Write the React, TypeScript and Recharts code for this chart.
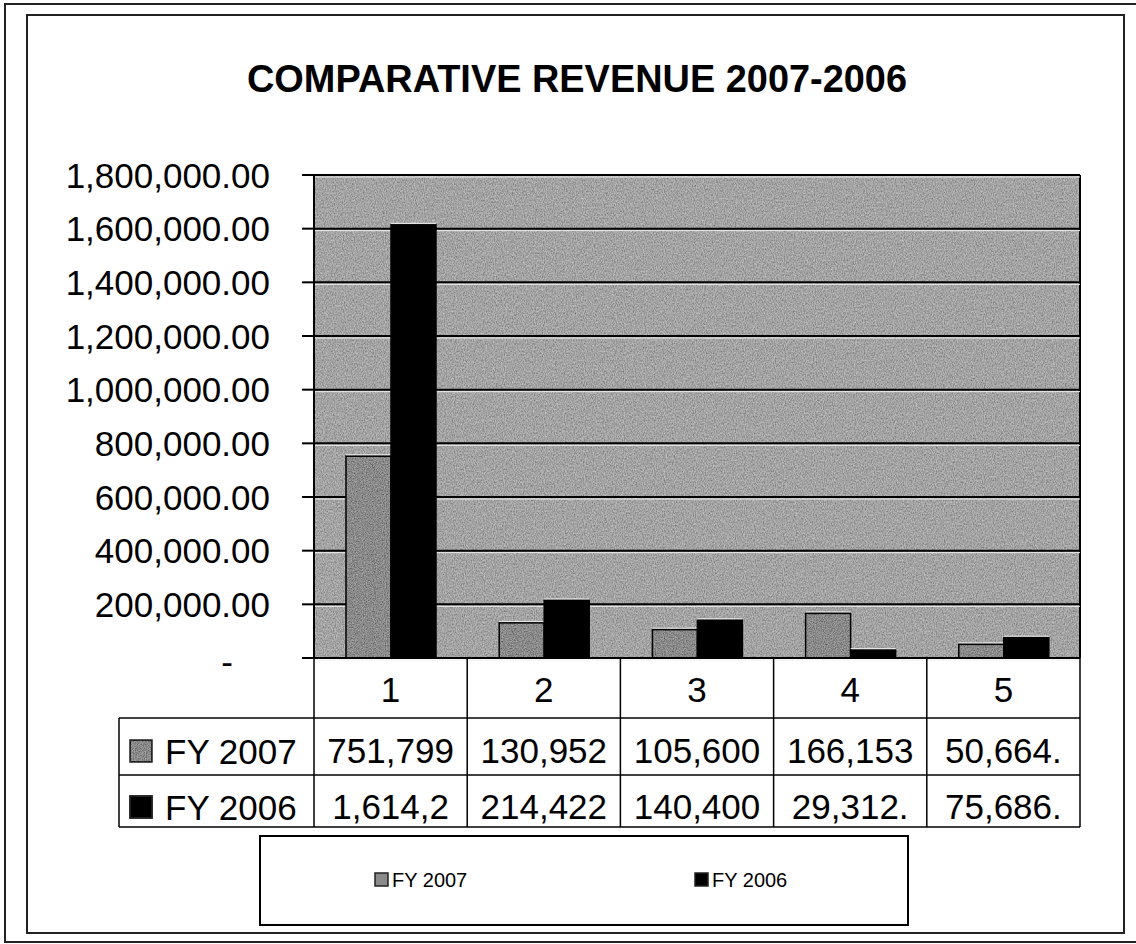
import React from 'react';
import { BarChart, Bar, XAxis, YAxis, CartesianGrid } from 'recharts';

const categories = ['1', '2', '3', '4', '5'];
const fy2007 = [751799, 130952, 105600, 166153, 50664];
const fy2006 = [1614250, 214422, 140400, 29312, 75686];
const fy2007Shown = ['751,799', '130,952', '105,600', '166,153', '50,664.'];
const fy2006Shown = ['1,614,2', '214,422', '140,400', '29,312.', '75,686.'];
const yTicks = [0, 200000, 400000, 600000, 800000, 1000000, 1200000, 1400000, 1600000, 1800000];
const seriesNames = ['FY 2007', 'FY 2006'];
const title = 'COMPARATIVE REVENUE 2007-2006';

const data = categories.map((c, i) => ({ cat: c, fy2007: fy2007[i], fy2006: fy2006[i] }));

const W = 1136;
const H = 944;
const FONT = '"Liberation Sans", Arial, sans-serif';
const GRAY_BAR = '#8a8a8a';
const PLOT_BG = '#a3a3a3';

const fmt = (v: number) =>
  v.toLocaleString('en-US', { minimumFractionDigits: 2, maximumFractionDigits: 2 });

const YTick = (p: any) => {
  const v = p.payload.value;
  if (v === 0) {
    return (
      <text x={p.x - 43} y={p.y + 3} textAnchor="middle" dominantBaseline="central" fontSize={35} fontFamily={FONT} fill="#000">
        -
      </text>
    );
  }
  return (
    <text x={p.x} y={p.y} textAnchor="end" dominantBaseline="central" fontSize={35} fontFamily={FONT} fill="#000">
      {fmt(v)}
    </text>
  );
};

const TableTick = (p: any) => {
  const { x, y, index, payload } = p;
  const half = (payload && payload.offset) || 76.6;
  const left = x - half;
  const right = x + half;
  const last = index === categories.length - 1;
  return (
    <g>
      <line x1={left} x2={left} y1={y} y2={y + 169} stroke="#000" strokeWidth={1.5} />
      {last && <line x1={right} x2={right} y1={y} y2={y + 169} stroke="#000" strokeWidth={1.5} />}
      <text x={x} y={y + 31} textAnchor="middle" dominantBaseline="central" fontSize={35} fontFamily={FONT} fill="#000">
        {payload.value}
      </text>
      <text x={x} y={y + 92} textAnchor="middle" dominantBaseline="central" fontSize={35} fontFamily={FONT} fill="#000">
        {fy2007Shown[index]}
      </text>
      <text x={x} y={y + 148} textAnchor="middle" dominantBaseline="central" fontSize={35} fontFamily={FONT} fill="#000">
        {fy2006Shown[index]}
      </text>
    </g>
  );
};

const GridLine = (p: any) => (
  <g key={p.key ?? `g-${p.index}-${p.y1}`}>
    <line x1={p.x1} y1={p.y1} x2={p.x2} y2={p.y2} stroke="#000" strokeWidth={2} />
    <line x1={p.x1} y1={p.y1 + 2} x2={p.x2} y2={p.y2 + 2} stroke="#eeeeee" strokeWidth={1} />
  </g>
);

const makeShape = (fill: string, textured: boolean) => (p: any) => {
  if (!p.height || p.height <= 0) return <g />;
  return (
    <g>
      <rect x={p.x} y={p.y} width={p.width} height={p.height} fill={fill} filter={textured ? 'url(#grainBar)' : undefined} />
      <line x1={p.x} y1={p.y - 1.5} x2={p.x + p.width} y2={p.y - 1.5} stroke="#eeeeee" strokeWidth={1} />
      <rect x={p.x} y={p.y} width={p.width} height={p.height} fill="none" stroke="#000" strokeWidth={1.5} />
    </g>
  );
};

export default function App() {
  const rowY = [751, 807];
  const rowFill = [GRAY_BAR, '#000'];
  return (
    <div style={{ position: 'absolute', left: 0, top: 0, width: W, height: H, background: '#fff' }}>
      <svg width={W} height={H} style={{ position: 'absolute', left: 0, top: 0 }}>
        <defs>
          <filter id="grain" x="0" y="0" width="100%" height="100%">
            <feTurbulence type="fractalNoise" baseFrequency="0.9 0.55" numOctaves={2} seed={5} result="noise" />
            <feColorMatrix in="noise" type="matrix" values="1 0 0 0 0  1 0 0 0 0  1 0 0 0 0  0 0 0 0 1" result="gn" />
            <feComposite in="SourceGraphic" in2="gn" operator="arithmetic" k1={0} k2={1} k3={0.5} k4={-0.25} result="mix" />
            <feComposite in="mix" in2="SourceGraphic" operator="in" />
          </filter>
          <filter id="grainBar" x="0" y="0" width="100%" height="100%">
            <feTurbulence type="fractalNoise" baseFrequency="0.9 0.7" numOctaves={2} seed={11} result="noise" />
            <feColorMatrix in="noise" type="matrix" values="1 0 0 0 0  1 0 0 0 0  1 0 0 0 0  0 0 0 0 1" result="gn" />
            <feComposite in="SourceGraphic" in2="gn" operator="arithmetic" k1={0} k2={1} k3={0.45} k4={-0.225} result="mix" />
            <feComposite in="mix" in2="SourceGraphic" operator="in" />
          </filter>
        </defs>
        {/* outer frame */}
        <rect x={5} y={4} width={W + 10} height={938} fill="none" stroke="#222" strokeWidth={2} />
        {/* inner frame */}
        <rect x={27} y={15} width={1097} height={918} fill="none" stroke="#222" strokeWidth={2} />
        {/* title */}
        <text x={577} y={79} textAnchor="middle" dominantBaseline="central" fontSize={38} fontWeight="bold" fontFamily={FONT} fill="#000" textLength={660} lengthAdjust="spacingAndGlyphs">
          {title}
        </text>
        {/* plot background */}
        <rect x={314} y={175} width={766} height={483} fill={PLOT_BG} filter="url(#grain)" />
        <line x1={1080} y1={175} x2={1080} y2={658} stroke="#000" strokeWidth={2} />
        {/* data table lines */}
        <line x1={119} y1={718} x2={1080} y2={718} stroke="#000" strokeWidth={1.5} />
        <line x1={119} y1={775} x2={1080} y2={775} stroke="#000" strokeWidth={1.5} />
        <line x1={119} y1={827} x2={1080} y2={827} stroke="#000" strokeWidth={1.5} />
        <line x1={119} y1={718} x2={119} y2={827} stroke="#000" strokeWidth={1.5} />
        {seriesNames.map((n, i) => (
          <g key={n}>
            <rect x={130} y={rowY[i] - 11} width={22} height={22} fill={rowFill[i]} stroke="#222" strokeWidth={1.5} filter={i === 0 ? 'url(#grainBar)' : undefined} />
            <rect x={130} y={rowY[i] - 11} width={22} height={22} fill="none" stroke="#222" strokeWidth={1.5} />
            <text x={165} y={rowY[i]} dominantBaseline="central" fontSize={35} fontFamily={FONT} fill="#000">
              {n}
            </text>
          </g>
        ))}
        {/* legend */}
        <rect x={260} y={836} width={648} height={89} fill="#fff" stroke="#000" strokeWidth={2} />
        {seriesNames.map((n, i) => (
          <g key={`lg-${n}`}>
            <rect x={375 + i * 320} y={873} width={13} height={13} fill={rowFill[i]} stroke="#222" strokeWidth={1.5} />
            <text x={392 + i * 320} y={880} dominantBaseline="central" fontSize={20} fontFamily={FONT} fill="#000">
              {n}
            </text>
          </g>
        ))}
      </svg>
      <div style={{ position: 'absolute', left: 0, top: 0 }}>
        <BarChart width={W} height={H} data={data} margin={{ top: 175, right: 56, bottom: 0, left: 14 }} barCategoryGap={32} barGap={0}>
          <CartesianGrid vertical={false} horizontal={GridLine as any} fill="none" />
          <XAxis
            dataKey="cat"
            height={286}
            interval={0}
            tickLine={false}
            tickSize={0}
            tickMargin={0}
            axisLine={{ stroke: '#000', strokeWidth: 2 }}
            tick={(p: any) => <TableTick {...p} />}
          />
          <YAxis
            type="number"
            domain={[0, 1800000]}
            ticks={yTicks}
            interval={0}
            width={300}
            tickSize={12}
            tickMargin={32}
            axisLine={{ stroke: '#000', strokeWidth: 2 }}
            tickLine={{ stroke: '#000', strokeWidth: 2 }}
            tick={(p: any) => <YTick {...p} />}
          />
          <Bar dataKey="fy2007" name={seriesNames[0]} fill={GRAY_BAR} isAnimationActive={false} shape={makeShape(GRAY_BAR, true)} />
          <Bar dataKey="fy2006" name={seriesNames[1]} fill="#000" isAnimationActive={false} shape={makeShape('#000', false)} />
        </BarChart>
      </div>
    </div>
  );
}
